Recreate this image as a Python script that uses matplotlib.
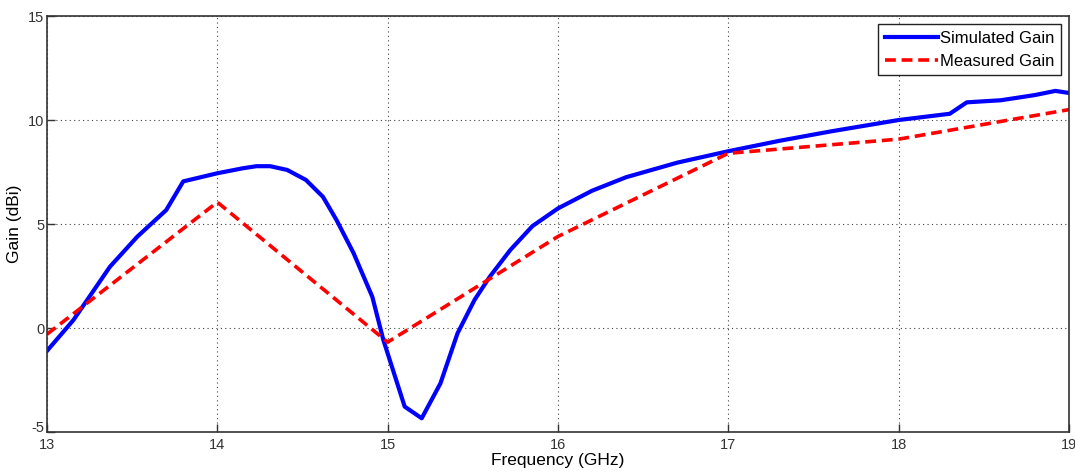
import matplotlib.pyplot as plt
from matplotlib.transforms import ScaledTranslation

# Simulated gain
sim_freq = [13.0, 13.155, 13.37, 13.53, 13.70, 13.80, 14.0, 14.15, 14.23, 14.31, 14.41,
            14.52, 14.62, 14.70, 14.80, 14.91, 14.975, 15.10, 15.20, 15.31, 15.41,
            15.51, 15.60, 15.72, 15.85, 16.0, 16.2, 16.4, 16.7, 17.0, 17.3,
            17.6, 18.0, 18.3, 18.4, 18.6, 18.8, 18.92, 19.0]
sim_gain = [-1.1, 0.38, 2.95, 4.39, 5.67, 7.05, 7.44, 7.68, 7.78, 7.78, 7.6,
            7.12, 6.31, 5.19, 3.6, 1.5, -0.58, -3.78, -4.34, -2.66, -0.26,
            1.35, 2.47, 3.75, 4.9, 5.75, 6.6, 7.25, 7.95, 8.5, 9.0,
            9.45, 10.0, 10.3, 10.85, 10.95, 11.2, 11.4, 11.3]

# Measured gain
meas_freq = [13, 14, 15, 16, 17, 18, 19]
meas_gain = [-0.3, 6.05, -0.68, 4.4, 8.4, 9.08, 10.5]

plt.rcParams['font.family'] = ['Liberation Sans', 'DejaVu Sans']
plt.rcParams['axes.unicode_minus'] = False

fig = plt.figure(figsize=(10.75, 4.74), dpi=100)
ax = fig.add_axes([0.0437, 0.0886, 0.9507, 0.8776])

ax.plot(sim_freq, sim_gain, color='#0000ff', linewidth=3, label='Simulated Gain')
ax.plot(meas_freq, meas_gain, color='#ff0000', linewidth=2.6, linestyle=(0, (3, 1.6)),
        label='Measured Gain')

ax.set_xlim(13, 19)
ax.set_ylim(-5, 15)
ax.set_xticks([13, 14, 15, 16, 17, 18, 19])
ax.set_yticks([-5, 0, 5, 10, 15])
ax.grid(True, color='#444444', linestyle=(0, (1, 3)), linewidth=0.8)
ax.tick_params(direction='in', length=6, width=1, colors='#333333', labelsize=10.5,
               top=False, right=False, pad=4)
ax.tick_params(axis='y', pad=2)
for s in ax.spines.values():
    s.set_color('#333333')
    s.set_linewidth(1.2)

# lift the bottom y label a little so it clears the "13"
fig.canvas.draw()
lbl = ax.get_yticklabels()[0]
lbl.set_transform(lbl.get_transform() + ScaledTranslation(0, 4 / 72, fig.dpi_scale_trans))

ax.set_xlabel('Frequency (GHz)', fontsize=12.5, labelpad=1)
ax.set_ylabel('Gain (dBi)', fontsize=12.5, labelpad=4)

leg = ax.legend(loc='upper right', fontsize=12, fancybox=False, framealpha=1,
                edgecolor='#222222', handlelength=3.2, handletextpad=0.1,
                borderaxespad=0.5, borderpad=0.4, labelspacing=0.45)
leg.get_frame().set_linewidth(1)

fig.savefig('out.png', dpi=100)
